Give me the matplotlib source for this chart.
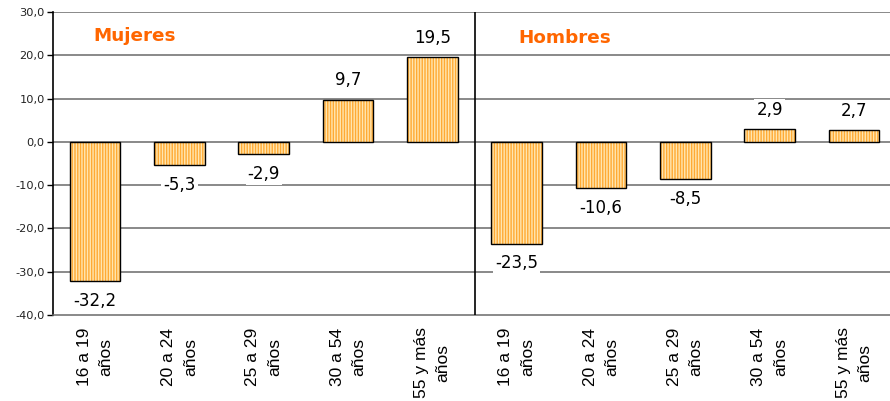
import matplotlib
matplotlib.use("Agg")
import matplotlib.pyplot as plt
import numpy as np

# grupos de edad y variación (%)
categorias = ["16 a 19\naños", "20 a 24\naños", "25 a 29\naños", "30 a 54\naños", "55 y más\naños"]
mujeres = [-32.2, -5.3, -2.9, 9.7, 19.5]
hombres = [-23.5, -10.6, -8.5, 2.9, 2.7]
yticks = [-40, -30, -20, -10, 0, 10, 20, 30]

valores = mujeres + hombres
etiquetas = categorias + categorias
x = np.arange(len(valores))

fig = plt.figure(figsize=(8.9, 4.01), dpi=100)
ax = fig.add_axes([53 / 890, 86 / 401, 843 / 890, 303 / 401])

ax.set_ylim(-40, 30)
ax.set_xlim(-0.5, len(valores) - 0.5)
ax.set_yticks(yticks)
ax.set_yticklabels([("%.1f" % v).replace(".", ",") for v in yticks],
                   fontsize=8.2, family="DejaVu Sans", color="#222222")

for v in yticks[1:]:
    ax.axhline(v, color="#6a6a6a", lw=1.1, zorder=1)

# barras rayadas: relleno + trama, luego el borde
ax.bar(x, valores, width=0.6, color="#FFAA33", edgecolor="#FFE6B0",
       hatch="||||||", linewidth=0, zorder=2)
ax.bar(x, valores, width=0.6, fill=False, edgecolor="black", linewidth=1.0, zorder=3)

for xi, v in zip(x, valores):
    txt = ("%.1f" % v).replace(".", ",")
    off = 4.5 if v > 0 else -4.6
    ax.text(xi, v + off, txt, ha="center", va="center",
            fontsize=12, family="DejaVu Sans", zorder=4,
            bbox=dict(facecolor="white", edgecolor="none", pad=1.5))

# separador entre mujeres y hombres
ax.axvline(4.5, color="black", lw=1.2, zorder=3)

ax.text(0.47, 24.5, "Mujeres", color="#FF6600", fontsize=13.2, fontweight="bold",
        family="DejaVu Sans", ha="center", va="center")
ax.text(5.57, 24.0, "Hombres", color="#FF6600", fontsize=13.2, fontweight="bold",
        family="DejaVu Sans", ha="center", va="center")

ax.set_xticks(x)
ax.set_xticklabels(etiquetas, rotation=90, fontsize=12.5, family="Liberation Sans",
                   ha="center", va="top", multialignment="center", linespacing=1.55)
ax.tick_params(axis="x", length=0, pad=9)
ax.tick_params(axis="y", length=4, width=1, color="black", pad=2)

ax.spines["top"].set_visible(False)
ax.spines["right"].set_visible(False)
ax.spines["left"].set_color("black")
ax.spines["left"].set_linewidth(1.2)
ax.spines["bottom"].set_color("#6a6a6a")
ax.spines["bottom"].set_linewidth(1.1)

fig.savefig("out.png", dpi=100)
